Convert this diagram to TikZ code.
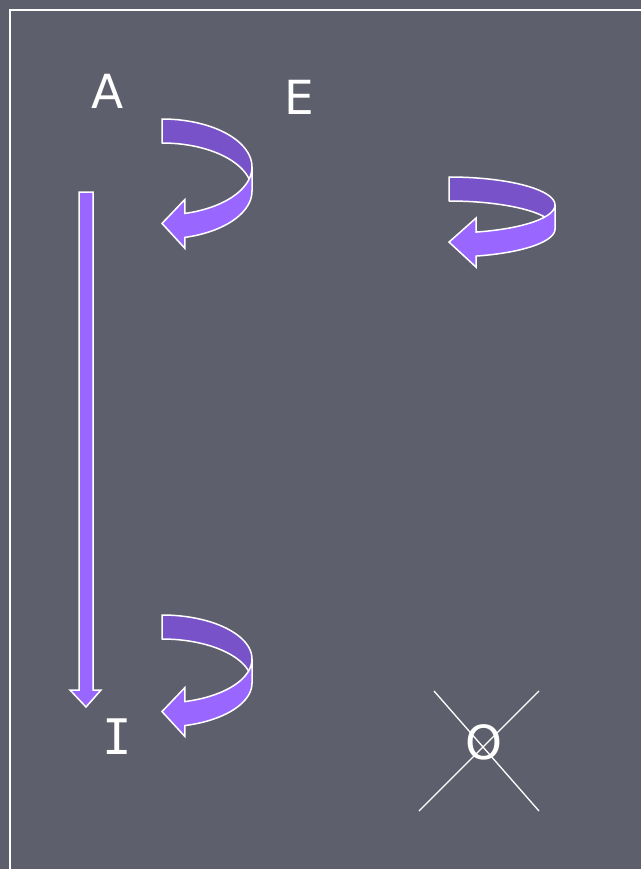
\documentclass[tikz,border=0pt]{standalone}
\usepackage{fontspec}
\newfontfamily\labelfont{DejaVu Sans}
\newfontfamily\labelmono{DejaVu Sans Mono}
\definecolor{slidebg}{RGB}{94,95,108}
\definecolor{purpledark}{RGB}{120,82,200}
\definecolor{purplelight}{RGB}{153,102,255}
\tikzset{
  ribbondark/.style={fill=purpledark, draw=white, line width=1.5pt, line join=round},
  ribbonlight/.style={fill=purplelight, draw=white, line width=1.5pt, line join=miter},
  letter/.style={text=white, inner sep=0pt, font=\labelfont\fontsize{47}{47}\selectfont}
}
% curved ribbon arrow: #1,#2 top left corner, #3 x radius, #4 y radius
\newcommand{\turnarrow}[4]{%
  \draw[ribbondark] plot[domain=90:0, samples=40] ({#1+#3*cos(\x)},{#2+#4-#4*sin(\x)})
    -- plot[domain=0:90, samples=40] ({#1+#3*cos(\x)},{#2+#4+24-#4*sin(\x)}) -- cycle;
  \draw[ribbonlight] plot[domain=0:75.23, samples=40] ({#1+#3*cos(\x)},{#2+#4+#4*sin(\x)})
    -- ({#1+0.255*#3},{#2+#4+0.967*#4-14})
    -- ({#1},{#2+#4+0.967*#4+10})
    -- ({#1+0.255*#3},{#2+#4+0.967*#4+35})
    -- plot[domain=75.23:0, samples=40] ({#1+#3*cos(\x)},{#2+#4+24+#4*sin(\x)}) -- cycle;
}
\begin{document}
\begin{tikzpicture}[x=1pt, y=-1pt]
\fill[slidebg] (0,0) rectangle (641,869);
\useasboundingbox (0,0) rectangle (641,869);
\draw[white, line width=1.6pt] (10,869) -- (10,10) -- (641,10);

\node[letter] (A) at (108,91) {A};
\node[letter] (E) at (299,97) {E};
\node[letter, font=\labelmono\fontsize{49}{49}\selectfont] (I) at (117,737) {I};
\node[letter] (O) at (484,742) {O};

% long arrow down the left
\draw[fill=purplelight, draw=white, line width=1.5pt] (79,192) -- (93,192) -- (93,690) -- (101,690)
  -- (86,707) -- (70,690) -- (79,690) -- cycle;

\turnarrow{162}{119}{90}{48}
\turnarrow{449}{177}{106}{28}
\turnarrow{162}{615}{90}{44}

% cross over O
\coordinate (xa) at (434,691);
\coordinate (xb) at (539,811);
\coordinate (xc) at (539,691);
\coordinate (xd) at (419,811);
\draw[white, line width=1.3pt] (xa) -- (xb);
\draw[white, line width=1.3pt] (xc) -- (xd);
\end{tikzpicture}
\end{document}
